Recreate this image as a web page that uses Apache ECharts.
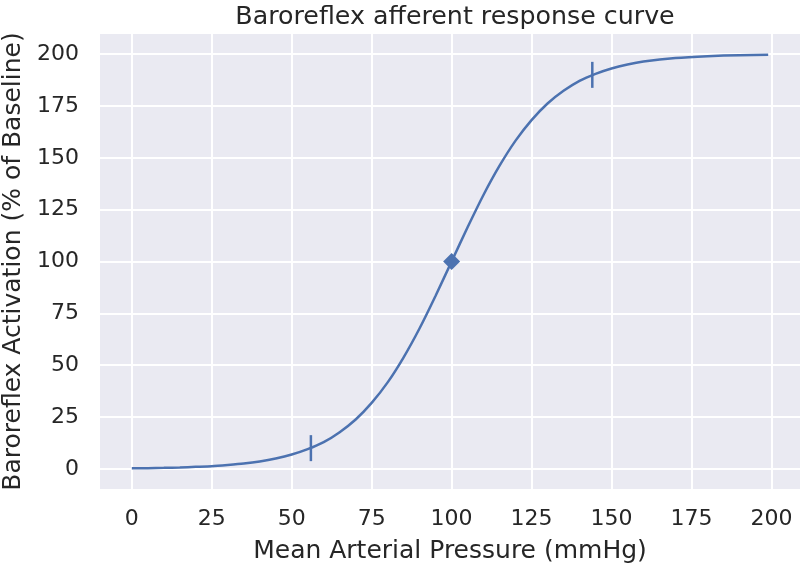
<!DOCTYPE html>
<html>
<head>
<meta charset="utf-8">
<script src="https://cdn.jsdelivr.net/npm/echarts@6/dist/echarts.min.js"></script>
<style>html,body{margin:0;padding:0;background:#fff}#c{width:801px;height:566px}</style>
</head>
<body>
<div id="c"></div>
<script>
// Mean arterial pressure (mmHg) and activation (% of baseline)
var pressure = [0,5,10,15,20,25,30,35,40,45,50,55,60,65,70,75,80,85,90,95,100,105,110,115,120,125,130,135,140,145,150,155,160,170,180,190,199];
var activation = [0.25,0.35,0.5,0.7,1.0,1.3,1.9,2.6,3.6,5.0,6.9,9.5,12.9,17.7,23.8,31.8,41.7,53.8,67.8,83.5,100,116.5,132.2,146.2,158.3,168.2,176.2,182.3,187.1,190.5,193.1,195.0,196.4,198.1,199.0,199.5,199.7];
// set point (diamond)
var setPointX = [100];
var setPointY = [100];
// operating range bounds (vertical tick marks)
var boundX = [56, 144];
var boundY = [10, 190];
// tick labels
var xTicks = [0,25,50,75,100,125,150,175,200];
var yTicks = [0,25,50,75,100,125,150,175,200];

var FONT = 'DejaVu Sans';
var TXT = '#262626';
var chart = echarts.init(document.getElementById('c'), null, {renderer: 'canvas'});
chart.setOption({
  animation: false,
  backgroundColor: '#ffffff',
  title: {
    text: 'Baroreflex afferent response curve',
    left: 450, textAlign: 'center', top: 0,
    textStyle: {fontFamily: FONT, fontSize: 25.3, fontWeight: 'normal', color: TXT}
  },
  grid: {left: 100, right: 1, top: 34, bottom: 77, show: true, backgroundColor: '#EAEAF2', borderWidth: 0,
         containLabel: false, outerBoundsMode: 'none'},
  xAxis: {
    type: 'value', min: -9.95, max: 208.95,
    name: 'Mean Arterial Pressure (mmHg)', nameLocation: 'middle', nameGap: 50,
    nameTextStyle: {fontFamily: FONT, fontSize: 25, color: TXT},
    axisLine: {show: false},
    axisTick: {show: false, customValues: xTicks},
    axisLabel: {customValues: xTicks, fontFamily: FONT, fontSize: 22, color: TXT, margin: 19},
    splitLine: {show: true, lineStyle: {color: '#ffffff', width: 2}}
  },
  yAxis: {
    type: 'value', min: -9.7, max: 209.7,
    name: 'Baroreflex Activation (% of Baseline)', nameLocation: 'middle', nameGap: 72, nameRotate: 90,
    nameTextStyle: {fontFamily: FONT, fontSize: 25, color: TXT},
    axisLine: {show: false},
    axisTick: {show: false, customValues: yTicks},
    axisLabel: {customValues: yTicks, fontFamily: FONT, fontSize: 22, color: TXT, margin: 21},
    splitLine: {show: true, lineStyle: {color: '#ffffff', width: 2}}
  },
  series: [
    {
      type: 'line', smooth: 0.2, showSymbol: false, symbol: 'none',
      data: pressure.map(function (p, i) { return [p, activation[i]]; }),
      lineStyle: {color: '#4C72B0', width: 2.5}, itemStyle: {color: '#4C72B0'}, z: 3
    },
    {
      type: 'scatter', symbol: 'diamond', symbolSize: 17,
      data: setPointX.map(function (p, i) { return [p, setPointY[i]]; }),
      itemStyle: {color: '#4C72B0', opacity: 1}, z: 4
    },
    {
      type: 'scatter', symbol: 'rect', symbolSize: [2.5, 26],
      data: boundX.map(function (p, i) { return [p, boundY[i]]; }),
      itemStyle: {color: '#4C72B0', opacity: 1}, z: 4
    }
  ]
});
</script>
</body>
</html>
